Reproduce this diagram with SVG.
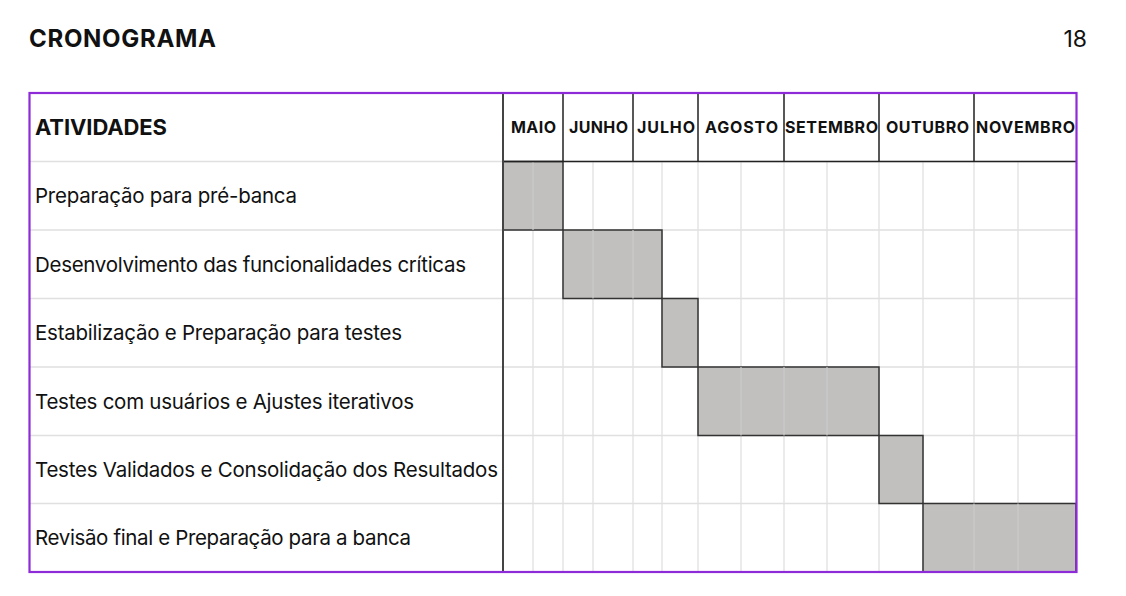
<svg xmlns="http://www.w3.org/2000/svg" width="1126" height="596" viewBox="0 0 1126 596">
<style>
.t{font-family:Inter,"Liberation Sans",sans-serif;fill:#111}
.title{font-size:24px;font-weight:700}
.act{font-size:20.5px;font-weight:400}
.hdr{font-size:22px;font-weight:700}
.mon{font-size:16px;font-weight:700}
.grid{stroke:#E0E0E0;stroke-width:1.3;fill:none}
.bar{fill:#C1C0BF;stroke:#333;stroke-width:1.5}
.mline{stroke:#222;stroke-width:1.5}
</style>
<rect width="1126" height="596" fill="#fff"/>
<g id="title">
<text class="t title" x="29" y="47" textLength="187">CRONOGRAMA</text>
<text class="t" x="1087" y="47" font-size="23" text-anchor="end">18</text>
</g>
<g id="grid">
<path class="grid" d="M29 161.5H1076M29 230H1076M29 298.5H1076M29 367H1076M29 435.5H1076M29 503.5H1076"/>
<path class="grid" d="M533 161V572M563 161V572M593 161V572M633 161V572M662 161V572M698 161V572M741 161V572M784 161V572M827 161V572M879 161V572M923 161V572M974 161V572M1018 161V572"/>
</g>
<g id="bars">
<rect id="bar1" class="bar" x="503" y="161.5" width="60" height="68.5"/>
<rect id="bar2" class="bar" x="563" y="230" width="99" height="68.5"/>
<rect id="bar3" class="bar" x="662" y="298.5" width="36" height="68.5"/>
<rect id="bar4" class="bar" x="698" y="367" width="181" height="68.5"/>
<rect id="bar5" class="bar" x="879" y="435.5" width="44" height="68"/>
<rect id="bar6" class="bar" x="923" y="503.5" width="153" height="68.5"/>
<path d="M533 161.5V230M593 230V298.5M633 230V298.5M741 367V435.5M784 367V435.5M827 367V435.5M974 503.5V572M1018 503.5V572" stroke="#CBCBCB" stroke-width="1.2"/>
</g>
<g id="header">
<path class="mline" d="M503 161.5H1076M563 93V161.5M633 93V161.5M698 93V161.5M784 93V161.5M879 93V161.5M974 93V161.5"/>
<text class="t hdr" x="35" y="135" textLength="132">ATIVIDADES</text>
<text class="t mon" x="533.5" y="133" text-anchor="middle" textLength="45">MAIO</text>
<text class="t mon" x="598.5" y="133" text-anchor="middle" textLength="59">JUNHO</text>
<text class="t mon" x="666" y="133" text-anchor="middle" textLength="58">JULHO</text>
<text class="t mon" x="741.5" y="133" text-anchor="middle" textLength="73">AGOSTO</text>
<text class="t mon" x="831.5" y="133" text-anchor="middle" textLength="93">SETEMBRO</text>
<text class="t mon" x="927.5" y="133" text-anchor="middle" textLength="83">OUTUBRO</text>
<text class="t mon" x="1025.5" y="133" text-anchor="middle" textLength="99">NOVEMBRO</text>
</g>
<g id="activities">
<text class="t act" x="35" y="203" textLength="262">Preparação para pré-banca</text>
<text class="t act" x="35" y="271.5" textLength="431">Desenvolvimento das funcionalidades críticas</text>
<text class="t act" x="35" y="340" textLength="367">Estabilização e Preparação para testes</text>
<text class="t act" x="35" y="408.5" textLength="379">Testes com usuários e Ajustes iterativos</text>
<text class="t act" x="35" y="477" textLength="463">Testes Validados e Consolidação dos Resultados</text>
<text class="t act" x="35" y="545" textLength="376">Revisão final e Preparação para a banca</text>
</g>
<g id="frame">
<line x1="503" y1="93" x2="503" y2="572" stroke="#444" stroke-width="2"/>
<rect x="29.5" y="93" width="1047" height="479" fill="none" stroke="#8E2BD8" stroke-width="2.2"/>
</g>
</svg>
